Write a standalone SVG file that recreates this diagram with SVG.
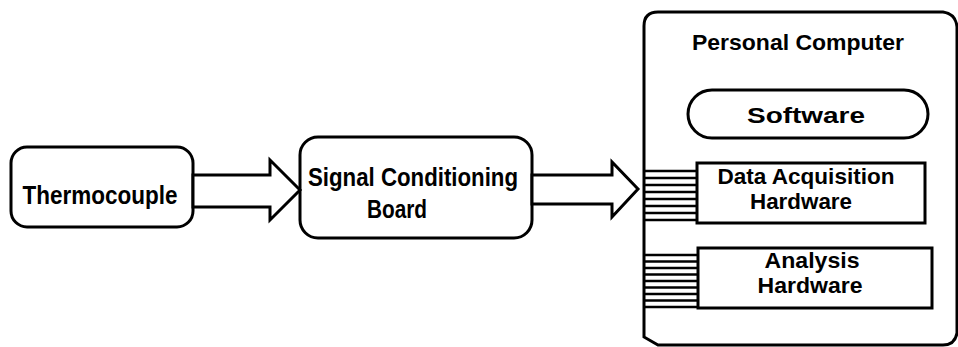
<svg xmlns="http://www.w3.org/2000/svg" width="958" height="347" viewBox="0 0 958 347">
<style>
.box{fill:#fff;stroke:#000;stroke-width:3}
.arrow{fill:#fff;stroke:#000;stroke-width:3;stroke-linejoin:miter}
.hatch{stroke:#000;stroke-width:2.6}
.t{font-family:"Liberation Sans",Arial,sans-serif;font-weight:bold;font-size:25px;fill:#000;text-anchor:middle}
.s{font-size:21.5px}
</style>
<rect width="958" height="347" fill="#fff"/>
<g id="pc">
<path class="box" d="M644,26 Q644,12 658,12 L943,12 Q956,14 957,27 L957,333 Q955,345 943,345 L658,345 L644,337 Z"/>
<text class="t s" x="798" y="50" textLength="212" lengthAdjust="spacingAndGlyphs">Personal Computer</text>
</g>
<g id="thermocouple">
<rect class="box" x="11" y="147" width="182" height="80" rx="16"/>
<text class="t" x="100" y="204" textLength="155" lengthAdjust="spacingAndGlyphs">Thermocouple</text>
</g>
<g id="signal">
<rect class="box" x="300" y="137" width="232" height="101" rx="18"/>
<text class="t" x="413" y="186" textLength="210" lengthAdjust="spacingAndGlyphs">Signal Conditioning</text>
<text class="t" x="397" y="218" textLength="60" lengthAdjust="spacingAndGlyphs">Board</text>
</g>
<g id="software">
<rect class="box" x="688" y="90" width="240" height="48" rx="24"/>
<text class="t s" x="806" y="123" textLength="118" lengthAdjust="spacingAndGlyphs">Software</text>
</g>
<g id="daq">
<rect class="box" x="697" y="163" width="228" height="60"/>
<text class="t s" x="806" y="184" textLength="177" lengthAdjust="spacingAndGlyphs">Data Acquisition</text>
<text class="t s" x="801" y="209" textLength="102" lengthAdjust="spacingAndGlyphs">Hardware</text>
</g>
<g id="analysis">
<rect class="box" x="698" y="248" width="234" height="60"/>
<text class="t s" x="812" y="268" textLength="95" lengthAdjust="spacingAndGlyphs">Analysis</text>
<text class="t s" x="810" y="293" textLength="105" lengthAdjust="spacingAndGlyphs">Hardware</text>
</g>
<g id="connectors">
<polygon class="arrow" points="193,175 270,175 270,160 300,190 270,220 270,207 193,207"/>
<polygon class="arrow" points="532,175 612,175 612,162 638,189 612,217 612,204 532,204"/>
<g class="hatch">
<line x1="644" y1="171" x2="697" y2="171"/>
<line x1="644" y1="178" x2="697" y2="178"/>
<line x1="644" y1="185" x2="697" y2="185"/>
<line x1="644" y1="192" x2="697" y2="192"/>
<line x1="644" y1="199" x2="697" y2="199"/>
<line x1="644" y1="206" x2="697" y2="206"/>
<line x1="644" y1="213" x2="697" y2="213"/>
<line x1="644" y1="220" x2="697" y2="220"/>
<line x1="644" y1="255" x2="698" y2="255"/>
<line x1="644" y1="261.5" x2="698" y2="261.5"/>
<line x1="644" y1="268" x2="698" y2="268"/>
<line x1="644" y1="274.5" x2="698" y2="274.5"/>
<line x1="644" y1="281" x2="698" y2="281"/>
<line x1="644" y1="287.5" x2="698" y2="287.5"/>
<line x1="644" y1="294" x2="698" y2="294"/>
<line x1="644" y1="300.5" x2="698" y2="300.5"/>
<line x1="644" y1="307" x2="698" y2="307"/>
</g>
</g>
</svg>
